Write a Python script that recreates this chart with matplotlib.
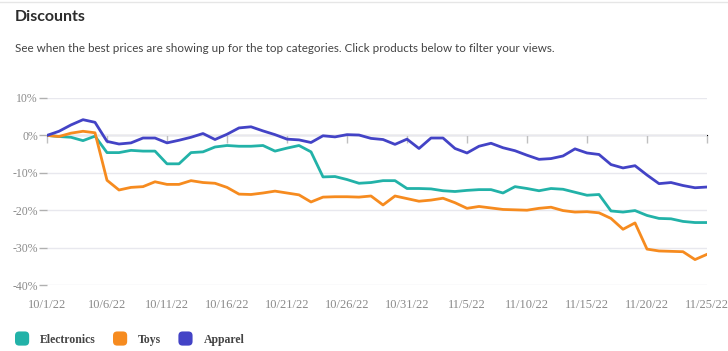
import matplotlib
matplotlib.use("Agg")
import matplotlib.pyplot as plt
import matplotlib.patches as mpatches
from matplotlib.legend_handler import HandlerPatch
import pandas as pd

# Daily discount (%) per category, 10/1/22 .. 11/25/22
dates = pd.date_range("2022-10-01", "2022-11-25", freq="D")
electronics = [0, -0.3, -0.5, -1.4, -0.2, -4.6, -4.6, -4.0, -4.2, -4.2,
               -7.6, -7.6, -4.6, -4.4, -3.1, -2.7, -2.9, -2.9, -2.7, -4.2,
               -3.4, -2.7, -4.4, -11.1, -11.0, -11.8, -12.8, -12.6, -12.1, -12.1,
               -14.2, -14.2, -14.3, -14.8, -15.0, -14.7, -14.5, -14.5, -15.4, -13.7,
               -14.2, -14.8, -14.2, -14.4, -15.2, -16.0, -15.8, -20.2, -20.5, -20.1,
               -21.4, -22.2, -22.3, -23.0, -23.3, -23.3]
toys = [0, -0.3, 0.6, 1.1, 0.7, -12.0, -14.6, -13.9, -13.7, -12.4,
        -13.1, -13.1, -12.1, -12.6, -12.8, -13.9, -15.7, -15.8, -15.4, -14.9,
        -15.4, -15.9, -17.8, -16.5, -16.4, -16.4, -16.5, -16.2, -18.6, -16.2,
        -16.9, -17.6, -17.3, -16.8, -18.0, -19.5, -19.0, -19.4, -19.8, -19.9,
        -20.0, -19.5, -19.2, -20.1, -20.5, -20.4, -20.7, -22.2, -25.1, -23.4,
        -30.4, -30.9, -31.0, -31.1, -33.2, -31.8]
apparel = [0, 1.1, 2.8, 4.2, 3.5, -1.6, -2.3, -2.0, -0.7, -0.7,
           -2.0, -1.3, -0.5, 0.5, -1.1, 0.3, 2.0, 2.3, 1.2, 0.2,
           -1.0, -1.2, -1.9, -0.1, -0.4, 0.2, 0.1, -0.8, -1.1, -2.4,
           -1.0, -3.5, -0.7, -0.7, -3.5, -4.7, -2.9, -2.1, -3.3, -4.1,
           -5.3, -6.4, -6.2, -5.5, -3.6, -4.7, -5.1, -7.8, -8.7, -8.1,
           -10.6, -12.9, -12.6, -13.4, -14.0, -13.8]

series_names = ["Electronics", "Toys", "Apparel"]
series_colors = ["#22b2a8", "#f68b1f", "#4343c6"]
y_ticks = [10, 0, -10, -20, -30, -40]

fig = plt.figure(figsize=(7.28, 3.51), dpi=100)
ax = fig.add_axes([47 / 728, 1 - 285 / 351, 660 / 728, 187 / 351])

for vals, name, col in zip([electronics, toys, apparel], series_names, series_colors):
    ax.plot(dates, vals, color=col, lw=2.0, label=name, solid_joinstyle="round")

ax.set_xlim(dates[0], dates[-1])
ax.set_ylim(-40, 10)

# y axis: percent labels, short gray dashes, light grid
ax.set_yticks(y_ticks)
ax.set_yticklabels([f"{v}%" for v in y_ticks])
ax.grid(axis="y", color="#e8e8ee", lw=1)
ax.set_axisbelow(True)

# x axis: labels every 5 days at the bottom
tick_dates = dates[::5]
ax.set_xticks(tick_dates)
ax.set_xticklabels([f"{d.month}/{d.day}/{d.year % 100}" for d in tick_dates])
ax.tick_params(axis="x", length=0, pad=10)
ax.tick_params(axis="y", length=6, width=1, color="#b0b0b0", pad=0.5)
for lab in ax.get_xticklabels():
    lab.set_fontfamily("Liberation Serif")
    lab.set_fontsize(9)
    lab.set_color("#8a8a8a")
for lab in ax.get_yticklabels():
    lab.set_fontfamily("Liberation Serif")
    lab.set_fontsize(8.5)
    lab.set_color("#8a8a8a")
for s in ax.spines.values():
    s.set_visible(False)

# little tick marks sitting on the 0% line
sec = ax.secondary_xaxis(0.8)
sec.set_xticks(tick_dates)
sec.set_xticklabels([])
sec.tick_params(direction="in", length=6, width=1, color="#c0c0c0")
sec.spines["bottom"].set_visible(False)

# header
fig.add_artist(plt.Line2D([0, 1], [0.995, 0.995], color="#e6e6e6", lw=1))
fig.text(15 / 728, 1 - 17 / 351, "Discounts", fontsize=11.5, fontweight="bold",
         fontfamily="Lato", color="#2c2c2c", va="center")
fig.text(15 / 728, 1 - 48 / 351,
         "See when the best prices are showing up for the top categories. "
         "Click products below to filter your views.",
         fontsize=8.37, fontfamily="Lato", color="#444444", va="center")


class HandlerRounded(HandlerPatch):
    def create_artists(self, legend, orig_handle, xdescent, ydescent,
                       width, height, fontsize, trans):
        size = width
        p = mpatches.FancyBboxPatch((0, (height - size) / 2 - ydescent), size, size,
                                    boxstyle="round,pad=0,rounding_size=3",
                                    facecolor=orig_handle.get_facecolor(),
                                    edgecolor="none", transform=trans)
        return [p]


handles = [mpatches.Patch(facecolor=c, label=n) for n, c in zip(series_names, series_colors)]
leg = fig.legend(handles=handles, loc="center left", bbox_to_anchor=(15 / 728, 1 - 339 / 351),
                 ncol=3, frameon=False, handler_map={mpatches.Patch: HandlerRounded()},
                 borderpad=0, borderaxespad=0,
                 handlelength=1.2, handleheight=1.2, handletextpad=0.93, columnspacing=1.45,
                 prop={"family": "Liberation Serif", "weight": "bold", "size": 8.5})
for t in leg.get_texts():
    t.set_color("#444444")

fig.savefig("out.png", dpi=100)
